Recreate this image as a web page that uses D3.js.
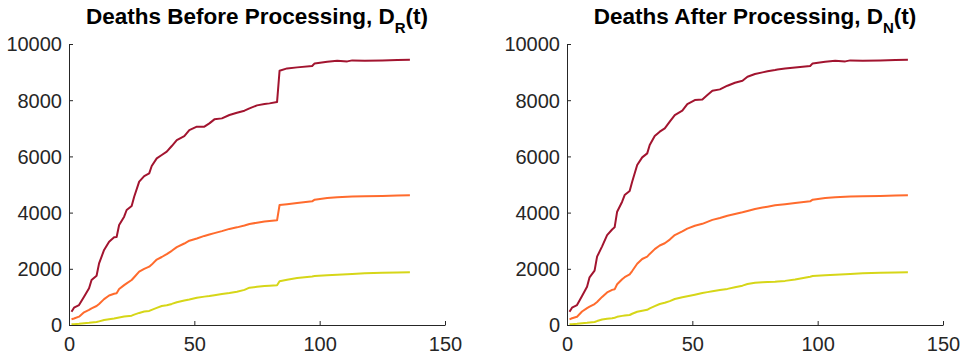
<!DOCTYPE html>
<html>
<head>
<meta charset="utf-8">
<script src="https://cdn.jsdelivr.net/npm/d3@7"></script>
<style>
  body { margin: 0; background: #fff; }
  svg { display: block; font-family: "Liberation Sans", Arial, sans-serif; }
</style>
</head>
<body>
<svg id="chart" width="966" height="361"></svg>
<script>
// days sampled from the curves (shared by every series)
const days = [1, 2, 4, 6, 8, 9, 11, 12, 14, 16, 18, 19, 20, 22, 23, 25, 26, 28, 30, 32,
  33, 35, 37, 39, 41, 43, 46, 48, 51, 54, 56, 58, 61, 64, 67, 70, 72, 75, 78, 80,
  83, 84, 87, 91, 97, 98, 103, 107, 111, 113, 118, 125, 131, 136];

// Deaths before processing D_R(t)
const beforeHigh = [470, 617, 711, 1008, 1305, 1600, 1755, 2194, 2670, 2965, 3119, 3130, 3558, 3855, 4092, 4234, 4566, 5100, 5300, 5396,
  5657, 5930, 6049, 6167, 6369, 6582, 6725, 6938, 7057, 7057, 7175, 7318, 7353, 7472, 7555, 7626, 7709, 7816, 7863, 7887,
  7934, 9049, 9132, 9168, 9215, 9310, 9369, 9405, 9381, 9417, 9405, 9417, 9429, 9441];
const beforeMid = [202, 230, 296, 450, 540, 593, 676, 750, 920, 1050, 1110, 1127, 1280, 1420, 1480, 1600, 1700, 1900, 2000, 2075,
  2150, 2330, 2420, 2520, 2640, 2770, 2900, 3000, 3080, 3170, 3220, 3270, 3340, 3420, 3475, 3540, 3594, 3640, 3680, 3700,
  3724, 4270, 4300, 4345, 4400, 4460, 4520, 4550, 4565, 4570, 4580, 4595, 4605, 4614];
const beforeLow = [24, 30, 45, 65, 80, 90, 107, 130, 180, 205, 230, 250, 270, 300, 315, 332, 370, 430, 480, 500,
  540, 610, 676, 700, 750, 810, 870, 905, 970, 1010, 1030, 1060, 1105, 1140, 1186, 1250, 1328, 1360, 1390, 1400,
  1411, 1560, 1610, 1670, 1730, 1743, 1770, 1790, 1810, 1818, 1838, 1855, 1866, 1874];

// Deaths after processing D_N(t)
const afterHigh = [474, 617, 711, 1032, 1364, 1696, 1933, 2431, 2800, 3200, 3400, 3475, 4032, 4388, 4625, 4768, 5100, 5693, 5966, 6108,
  6404, 6725, 6879, 6997, 7235, 7472, 7626, 7863, 8006, 8029, 8183, 8337, 8385, 8516, 8622, 8693, 8836, 8931, 8990, 9030,
  9073, 9090, 9125, 9160, 9215, 9310, 9369, 9405, 9381, 9417, 9405, 9417, 9429, 9441];
const afterMid = [202, 240, 296, 480, 600, 652, 747, 820, 1000, 1160, 1250, 1269, 1450, 1630, 1700, 1800, 1920, 2180, 2350, 2431,
  2530, 2700, 2830, 2910, 3040, 3200, 3330, 3430, 3530, 3600, 3670, 3740, 3810, 3890, 3949, 4010, 4060, 4130, 4180, 4210,
  4258, 4270, 4300, 4345, 4400, 4460, 4520, 4550, 4565, 4570, 4580, 4595, 4605, 4614];
const afterLow = [24, 30, 45, 65, 80, 90, 107, 140, 195, 220, 240, 260, 290, 325, 340, 356, 400, 470, 510, 540,
  590, 670, 747, 790, 850, 925, 990, 1025, 1080, 1140, 1170, 1200, 1245, 1285, 1340, 1400, 1460, 1500, 1520, 1530,
  1542, 1550, 1570, 1620, 1720, 1743, 1770, 1790, 1810, 1818, 1838, 1855, 1866, 1874];

const xTicks = [0, 50, 100, 150];
const yTicks = [0, 2000, 4000, 6000, 8000, 10000];
const colors = ["#a2142f", "#ff6b2d", "#d6d618"];

const panels = [
  { left: 69, title: "Deaths Before Processing, D", sub: "R", series: [beforeHigh, beforeMid, beforeLow] },
  { left: 567, title: "Deaths After Processing, D", sub: "N", series: [afterHigh, afterMid, afterLow] },
];

const svg = d3.select("#chart");
const plotTop = 44, plotBottom = 325, plotW = 376;
const axisColor = "#262626";

panels.forEach((p) => {
  const x = d3.scaleLinear().domain([0, 150]).range([p.left, p.left + plotW]);
  const y = d3.scaleLinear().domain([0, 10000]).range([plotBottom, plotTop]);

  const line = d3.line()
    .x((d, i) => x(days[i]))
    .y((d) => y(d));

  // lines first, yellow at the bottom of the stack
  p.series.slice().reverse().forEach((s, k) => {
    svg.append("path")
      .datum(s)
      .attr("fill", "none")
      .attr("stroke", colors[2 - k])
      .attr("stroke-width", 2)
      .attr("stroke-linejoin", "round")
      .attr("d", line);
  });

  const gx = svg.append("g")
    .attr("transform", `translate(0,${plotBottom})`)
    .call(d3.axisBottom(x).tickValues(xTicks).tickFormat(d3.format("d"))
      .tickSizeInner(-4).tickSizeOuter(0).tickPadding(12));
  const gy = svg.append("g")
    .attr("transform", `translate(${p.left},0)`)
    .call(d3.axisLeft(y).tickValues(yTicks).tickFormat(d3.format("d"))
      .tickSizeInner(-4).tickSizeOuter(0).tickPadding(7));

  [gx, gy].forEach((g) => {
    g.select(".domain").attr("stroke", axisColor);
    g.selectAll(".tick line").attr("stroke", axisColor);
    g.selectAll("text")
      .attr("fill", axisColor)
      .style("font-size", "20px");
  });
  gy.selectAll(".tick text").attr("dy", "0.34em");

  // title with subscript
  const t = svg.append("text")
    .attr("x", p.left + plotW / 2)
    .attr("y", 24)
    .attr("text-anchor", "middle")
    .style("font-size", "22.5px")
    .style("font-weight", "bold")
    .attr("fill", "#000");
  t.append("tspan").text(p.title);
  t.append("tspan").attr("dy", 9).style("font-size", "15px").text(p.sub);
  t.append("tspan").attr("dy", -9).text("(t)");
});
</script>
</body>
</html>
